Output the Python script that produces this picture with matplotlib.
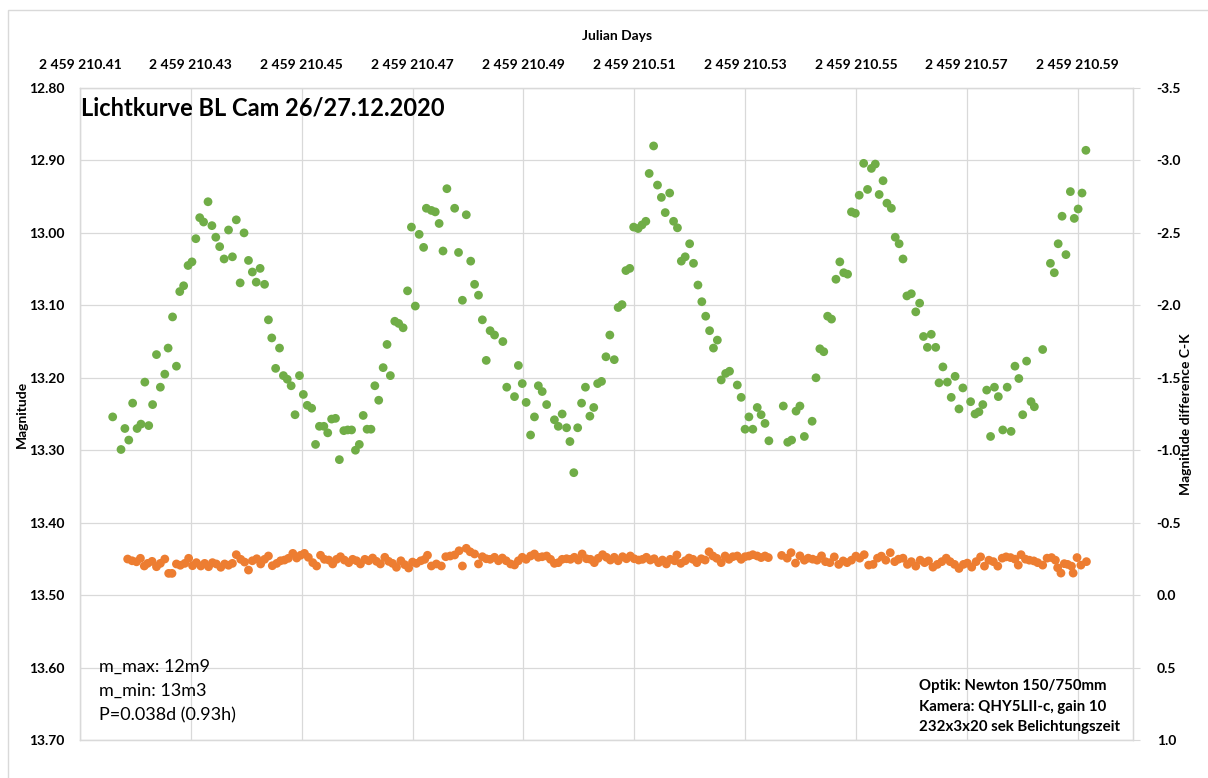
import numpy as np
import matplotlib.pyplot as plt
from matplotlib.ticker import FuncFormatter
from matplotlib.patches import Rectangle

plt.rcParams['font.family'] = ['Lato', 'DejaVu Sans']
plt.rcParams['font.weight'] = 'bold'
plt.rcParams['axes.unicode_minus'] = False

JD0 = 2459210.0

# BL Cam, Julian day (fraction after JD0) and magnitude
jd_var = [
    .4159, .4174, .4181, .4188, .4195, .4203, .4210, .4217, .4224, .4231,
    .4238, .4245, .4253, .4259, .4267, .4274, .4280, .4287, .4295, .4302,
    .4309, .4316, .4323, .4331, .4338, .4345, .4352, .4360, .4368, .4375,
    .4382, .4389, .4396, .4404, .4411, .4418, .4425, .4433, .4440, .4446,
    .4453, .4460, .4467, .4474, .4481, .4488, .4496, .4503, .4510, .4518,
    .4525, .4532, .4540, .4547, .4554, .4561, .4568, .4576, .4583, .4590,
    .4597, .4604, .4611, .4618, .4625, .4632, .4639, .4647, .4654, .4660,
    .4668, .4675, .4683, .4691, .4698, .4705, .4712, .4720, .4725, .4734,
    .4741, .4748, .4755, .4762, .4776, .4783, .4790, .4797, .4805, .4812,
    .4819, .4826, .4833, .4840, .4848, .4863, .4870, .4884, .4891, .4898,
    .4905, .4913, .4920, .4927, .4934, .4942, .4956, .4963, .4970, .4978,
    .4984, .4991, .4998, .5005, .5012, .5020, .5027, .5034, .5041, .5049,
    .5056, .5064, .5071, .5078, .5085, .5092, .5099, .5107, .5114, .5121,
    .5127, .5135, .5142, .5149, .5156, .5164, .5171, .5178, .5185, .5192,
    .5200, .5207, .5215, .5222, .5229, .5236, .5243, .5250, .5257, .5265,
    .5272, .5286, .5293, .5300, .5307, .5314, .5322, .5329, .5336, .5343,
    .5369, .5377, .5384, .5392, .5399, .5407, .5421, .5428, .5435, .5442,
    .5449, .5456, .5464, .5471, .5478, .5485, .5492, .5499, .5506, .5514,
    .5521, .5528, .5535, .5542, .5549, .5556, .5564, .5571, .5578, .5585,
    .5592, .5600, .5608, .5615, .5622, .5629, .5636, .5644, .5650, .5657,
    .5665, .5672, .5679, .5686, .5693, .5707, .5715, .5722, .5729, .5736,
    .5743, .5750, .5757, .5765, .5773, .5780, .5787, .5794, .5801, .5808,
    .5816, .5822, .5837, .5851, .5858, .5865, .5872, .5879, .5887, .5894,
    .5901, .5908, .5915,
]
mag_var = [
    13.254, 13.299, 13.270, 13.286, 13.235, 13.270, 13.264, 13.206, 13.266, 13.237,
    13.168, 13.213, 13.195, 13.159, 13.116, 13.184, 13.081, 13.073, 13.045, 13.040,
    13.008, 12.979, 12.985, 12.957, 12.990, 13.006, 13.019, 13.036, 12.996, 13.033,
    12.982, 13.069, 13.000, 13.038, 13.054, 13.068, 13.049, 13.071, 13.120, 13.145,
    13.187, 13.159, 13.197, 13.202, 13.211, 13.251, 13.197, 13.223, 13.238, 13.242,
    13.292, 13.267, 13.267, 13.276, 13.257, 13.256, 13.313, 13.273, 13.272, 13.272,
    13.300, 13.292, 13.252, 13.271, 13.271, 13.211, 13.231, 13.186, 13.154, 13.197,
    13.122, 13.125, 13.131, 13.080, 12.992, 13.101, 13.002, 13.020, 12.966, 12.969,
    12.971, 12.987, 13.025, 12.939, 12.966, 13.027, 13.093, 12.975, 13.039, 13.071,
    13.086, 13.120, 13.176, 13.135, 13.141, 13.150, 13.213, 13.226, 13.183, 13.208,
    13.234, 13.279, 13.254, 13.211, 13.219, 13.237, 13.258, 13.267, 13.250, 13.269,
    13.288, 13.331, 13.269, 13.235, 13.213, 13.253, 13.241, 13.208, 13.205, 13.171,
    13.141, 13.175, 13.103, 13.099, 13.052, 13.049, 12.992, 12.994, 12.989, 12.984,
    12.918, 12.880, 12.934, 12.951, 12.972, 12.945, 12.984, 12.993, 13.039, 13.033,
    13.015, 13.042, 13.072, 13.095, 13.115, 13.135, 13.159, 13.148, 13.203, 13.194,
    13.191, 13.210, 13.227, 13.271, 13.254, 13.271, 13.241, 13.251, 13.263, 13.287,
    13.239, 13.289, 13.286, 13.246, 13.239, 13.281, 13.260, 13.200, 13.160, 13.164,
    13.115, 13.119, 13.064, 13.040, 13.055, 13.057, 12.971, 12.973, 12.948, 12.904,
    12.940, 12.911, 12.905, 12.947, 12.928, 12.959, 12.966, 13.006, 13.015, 13.036,
    13.087, 13.084, 13.109, 13.097, 13.143, 13.158, 13.140, 13.158, 13.207, 13.185,
    13.206, 13.227, 13.198, 13.243, 13.214, 13.233, 13.250, 13.247, 13.237, 13.217,
    13.281, 13.213, 13.226, 13.272, 13.213, 13.274, 13.184, 13.201, 13.251, 13.177,
    13.233, 13.240, 13.161, 13.042, 13.055, 13.015, 12.977, 13.030, 12.943, 12.980,
    12.967, 12.945, 12.886,
]

# check star minus comparison star (C-K)
jd_chk = [
    .4186, .4194, .4202, .4209, .4216, .4222, .4230, .4238, .4245, .4253,
    .4260, .4266, .4274, .4281, .4289, .4296, .4303, .4310, .4318, .4325,
    .4332, .4339, .4346, .4354, .4361, .4368, .4375, .4382, .4390, .4397,
    .4404, .4411, .4419, .4426, .4433, .4440, .4447, .4455, .4462, .4469,
    .4476, .4484, .4491, .4498, .4505, .4512, .4520, .4527, .4534, .4541,
    .4549, .4556, .4563, .4570, .4577, .4585, .4592, .4599, .4606, .4614,
    .4621, .4628, .4635, .4642, .4650, .4657, .4664, .4671, .4679, .4686,
    .4693, .4700, .4707, .4715, .4722, .4727, .4734, .4743, .4752, .4760,
    .4768, .4776, .4784, .4790, .4797, .4804, .4812, .4819, .4826, .4833,
    .4840, .4848, .4855, .4862, .4869, .4877, .4884, .4891, .4898, .4905,
    .4913, .4920, .4927, .4934, .4942, .4949, .4956, .4963, .4970, .4978,
    .4985, .4992, .4999, .5006, .5014, .5021, .5028, .5035, .5043, .5050,
    .5057, .5064, .5071, .5079, .5086, .5093, .5100, .5108, .5115, .5122,
    .5129, .5136, .5144, .5151, .5158, .5165, .5173, .5177, .5184, .5192,
    .5199, .5206, .5213, .5221, .5228, .5235, .5242, .5249, .5257, .5264,
    .5271, .5278, .5286, .5293, .5300, .5307, .5314, .5322, .5329, .5336,
    .5342, .5366, .5376, .5383, .5391, .5399, .5407, .5414, .5422, .5430,
    .5438, .5445, .5453, .5461, .5469, .5477, .5484, .5492, .5500, .5507,
    .5515, .5523, .5531, .5539, .5546, .5554, .5562, .5570, .5577, .5585,
    .5593, .5600, .5608, .5616, .5624, .5631, .5639, .5647, .5655, .5663,
    .5670, .5678, .5686, .5694, .5701, .5709, .5717, .5725, .5732, .5740,
    .5748, .5756, .5764, .5771, .5779, .5787, .5793, .5798, .5806, .5813,
    .5821, .5828, .5837, .5845, .5853, .5860, .5864, .5870, .5876, .5882,
    .5889, .5892, .5899, .5906, .5916,
]
diff_chk = [
    -0.249, -0.237, -0.230, -0.254, -0.201, -0.219, -0.233, -0.196, -0.219, -0.249,
    -0.150, -0.150, -0.215, -0.206, -0.219, -0.254, -0.203, -0.224, -0.201, -0.219,
    -0.196, -0.224, -0.215, -0.192, -0.215, -0.206, -0.219, -0.279, -0.247, -0.228,
    -0.173, -0.237, -0.251, -0.215, -0.247, -0.270, -0.203, -0.219, -0.237, -0.242,
    -0.254, -0.288, -0.256, -0.275, -0.288, -0.261, -0.224, -0.201, -0.275, -0.247,
    -0.242, -0.215, -0.247, -0.265, -0.242, -0.224, -0.247, -0.237, -0.215, -0.247,
    -0.237, -0.256, -0.233, -0.215, -0.261, -0.233, -0.219, -0.192, -0.237, -0.210,
    -0.187, -0.228, -0.219, -0.237, -0.247, -0.275, -0.201, -0.215, -0.201, -0.265,
    -0.270, -0.277, -0.306, -0.201, -0.323, -0.299, -0.284, -0.215, -0.265, -0.251,
    -0.247, -0.261, -0.237, -0.256, -0.237, -0.215, -0.208, -0.237, -0.261, -0.247,
    -0.270, -0.284, -0.261, -0.265, -0.270, -0.247, -0.219, -0.224, -0.247, -0.251,
    -0.247, -0.261, -0.242, -0.284, -0.251, -0.247, -0.224, -0.254, -0.279, -0.261,
    -0.242, -0.261, -0.237, -0.265, -0.251, -0.270, -0.251, -0.242, -0.247, -0.261,
    -0.242, -0.251, -0.224, -0.242, -0.215, -0.247, -0.237, -0.277, -0.219, -0.237,
    -0.256, -0.247, -0.224, -0.251, -0.242, -0.299, -0.270, -0.254, -0.224, -0.270,
    -0.247, -0.265, -0.270, -0.247, -0.265, -0.270, -0.279, -0.270, -0.259, -0.270,
    -0.259, -0.274, -0.255, -0.293, -0.221, -0.271, -0.241, -0.255, -0.248, -0.241,
    -0.271, -0.231, -0.224, -0.264, -0.212, -0.236, -0.224, -0.241, -0.269, -0.255,
    -0.279, -0.207, -0.212, -0.255, -0.269, -0.241, -0.293, -0.231, -0.248, -0.255,
    -0.212, -0.231, -0.200, -0.241, -0.224, -0.236, -0.193, -0.212, -0.231, -0.255,
    -0.231, -0.212, -0.184, -0.212, -0.221, -0.193, -0.231, -0.264, -0.200, -0.241,
    -0.231, -0.200, -0.255, -0.264, -0.259, -0.248, -0.207, -0.279, -0.248, -0.241,
    -0.236, -0.224, -0.207, -0.255, -0.259, -0.241, -0.189, -0.152, -0.217, -0.212,
    -0.200, -0.152, -0.259, -0.207, -0.231,
]

jd_ticks = [0.41, 0.43, 0.45, 0.47, 0.49, 0.51, 0.53, 0.55, 0.57, 0.59]
mag_ticks = [12.8, 12.9, 13.0, 13.1, 13.2, 13.3, 13.4, 13.5, 13.6, 13.7]
diff_ticks = [-3.5, -3.0, -2.5, -2.0, -1.5, -1.0, -0.5, 0.0, 0.5, 1.0]

GREEN = '#70AD47'
ORANGE = '#ED7D31'
GRID = '#D9D9D9'

W, H = 1208, 778
fig = plt.figure(figsize=(W / 100, H / 100), dpi=100)
fig.add_artist(Rectangle((8 / W, -0.1), 1.2, 1.1 - 10 / H, transform=fig.transFigure,
                         fill=False, edgecolor=GRID, lw=1))

ax = fig.add_axes([80 / W, 38 / H, 1053 / W, 652 / H])
ax2 = ax.twinx()

ax.scatter(JD0 + np.array(jd_var), mag_var, s=40, color=GREEN, edgecolors='none', zorder=3)
ax2.scatter(JD0 + np.array(jd_chk), diff_chk, s=40, color=ORANGE, edgecolors='none', zorder=3)

ax.set_xlim(JD0 + 0.41, JD0 + 0.60)
ax.set_ylim(13.70, 12.80)
ax2.set_ylim(1.0, -3.5)

ax.set_xticks([JD0 + t for t in jd_ticks])
ax.xaxis.set_major_formatter(FuncFormatter(lambda v, _: f"{v:,.2f}".replace(',', ' ')))
ax.xaxis.tick_top()
ax.set_yticks(mag_ticks)
ax.yaxis.set_major_formatter(FuncFormatter(lambda v, _: f"{v:.2f}"))
ax2.set_yticks(diff_ticks)
ax2.yaxis.set_major_formatter(FuncFormatter(lambda v, _: f"{v:.1f}"))

ax.tick_params(axis='x', length=0, pad=12, labelsize=10)
ax.tick_params(axis='y', length=0, pad=11, labelsize=10)
ax2.tick_params(axis='y', length=5, color=GRID, pad=12, labelsize=10)

ax.grid(True, color=GRID, lw=0.9)
ax.set_axisbelow(True)
for a in (ax, ax2):
    for sp in a.spines.values():
        sp.set_color(GRID)
        sp.set_linewidth(0.9)

fig.text(617 / W, 1 - 36 / H, 'Julian Days', ha='center', va='center', fontsize=10)
fig.text(22 / W, 1 - 414 / H, 'Magnitude', rotation=90, ha='center', va='center', fontsize=10)
fig.text(1186 / W, 1 - 414 / H, 'Magnitude difference C-K', rotation=90,
         ha='center', va='center', fontsize=10)

fig.text(81 / W, 1 - 108 / H, 'Lichtkurve BL Cam 26/27.12.2020', ha='left', va='center', fontsize=17)

for i, line in enumerate(['m_max: 12m9', 'm_min: 13m3', 'P=0.038d (0.93h)']):
    fig.text(99 / W, 1 - (667 + 24 * i) / H, line, ha='left', va='center',
             fontsize=13, fontweight='normal')
for i, line in enumerate(['Optik: Newton 150/750mm', 'Kamera: QHY5LII-c, gain 10',
                          '232x3x20 sek Belichtungszeit']):
    fig.text(919 / W, 1 - (686 + 20.5 * i) / H, line, ha='left', va='center', fontsize=10.8)

fig.savefig('out.png', dpi=100)
